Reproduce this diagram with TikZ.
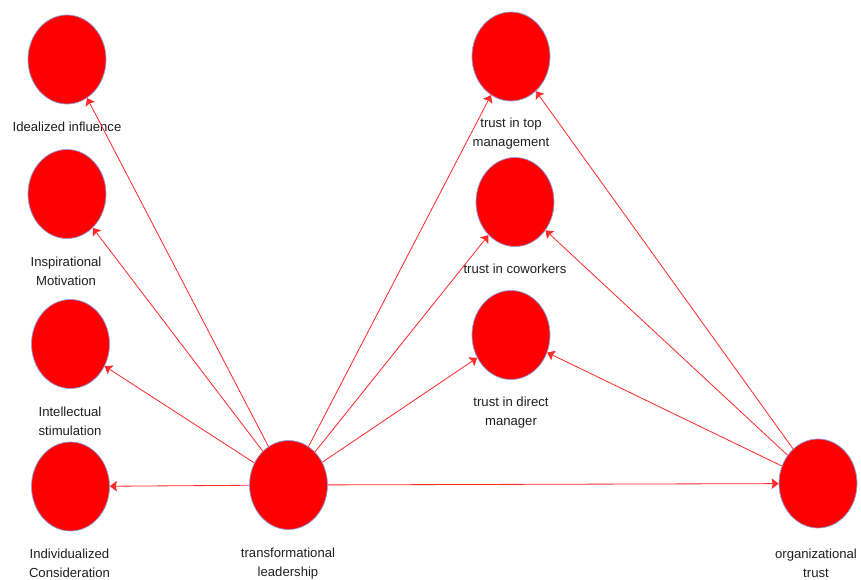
\documentclass[tikz,border=0pt]{standalone}
\usepackage{fontspec}
\setmainfont{Liberation Sans}
\usepackage{xcolor}
\usepackage{tikz}
\usetikzlibrary{shapes.geometric, arrows.meta}
\definecolor{latentred}{HTML}{FF0000}
\definecolor{latentedge}{HTML}{8C9FE0}
\definecolor{linkred}{HTML}{FF2A2A}
\definecolor{labelgrey}{HTML}{1E1E1E}
\newcommand{\fsLabel}{\fontsize{11.2}{16.2}\selectfont}

\begin{document}
\begin{tikzpicture}[x=0.03cm, y=-0.03cm,
  every node/.style={font=\fsLabel, text=labelgrey},
  latent/.style={ellipse, fill=latentred, draw=latentedge, line width=0.6pt,
    minimum width=2.34cm, minimum height=2.67cm, inner sep=0pt},
  lbl/.style={align=center, inner sep=0pt},
  link/.style={draw=linkred, line width=0.7pt,
    -{Stealth[length=6pt, width=9pt, inset=1pt]}}]
  \useasboundingbox (0,0) rectangle (861,579);

  % dimensions of transformational leadership
  \node[latent] (idealized) at (67,59.5) {};
  \node[lbl] (idealized-lbl) at (67,127) {Idealized influence};
  \node[latent] (inspir) at (67,194) {};
  \node[lbl] (inspir-lbl) at (66,271.5) {Inspirational\\Motivation};
  \node[latent] (intell) at (70.5,344) {};
  \node[lbl] (intell-lbl) at (70,421.5) {Intellectual\\stimulation};
  \node[latent] (indiv) at (70.5,486.5) {};
  \node[lbl] (indiv-lbl) at (69.5,563.5) {Individualized\\Consideration};

  \node[latent] (transf) at (288.5,485) {};
  \node[lbl] (transf-lbl) at (288,563.5) {transformational\\leadership};

  % dimensions of organizational trust
  \node[latent] (topmgmt) at (511,56.5) {};
  \node[lbl] (topmgmt-lbl) at (511,134) {trust in top\\management};
  \node[latent] (cowork) at (515,202) {};
  \node[lbl] (cowork-lbl) at (515,269) {trust in coworkers};
  \node[latent] (directmgr) at (511,335) {};
  \node[lbl] (directmgr-lbl) at (511,413) {trust in direct\\manager};

  \node[latent] (orgtrust) at (818,483.5) {};
  \node[lbl] (orgtrust-lbl) at (816,563) {organizational\\trust};

  \foreach \t in {idealized, inspir, intell, indiv, topmgmt, cowork, directmgr, orgtrust}
    \draw[link] (transf) -- (\t);
  \foreach \t in {topmgmt, cowork, directmgr}
    \draw[link] (orgtrust) -- (\t);
\end{tikzpicture}
\end{document}
